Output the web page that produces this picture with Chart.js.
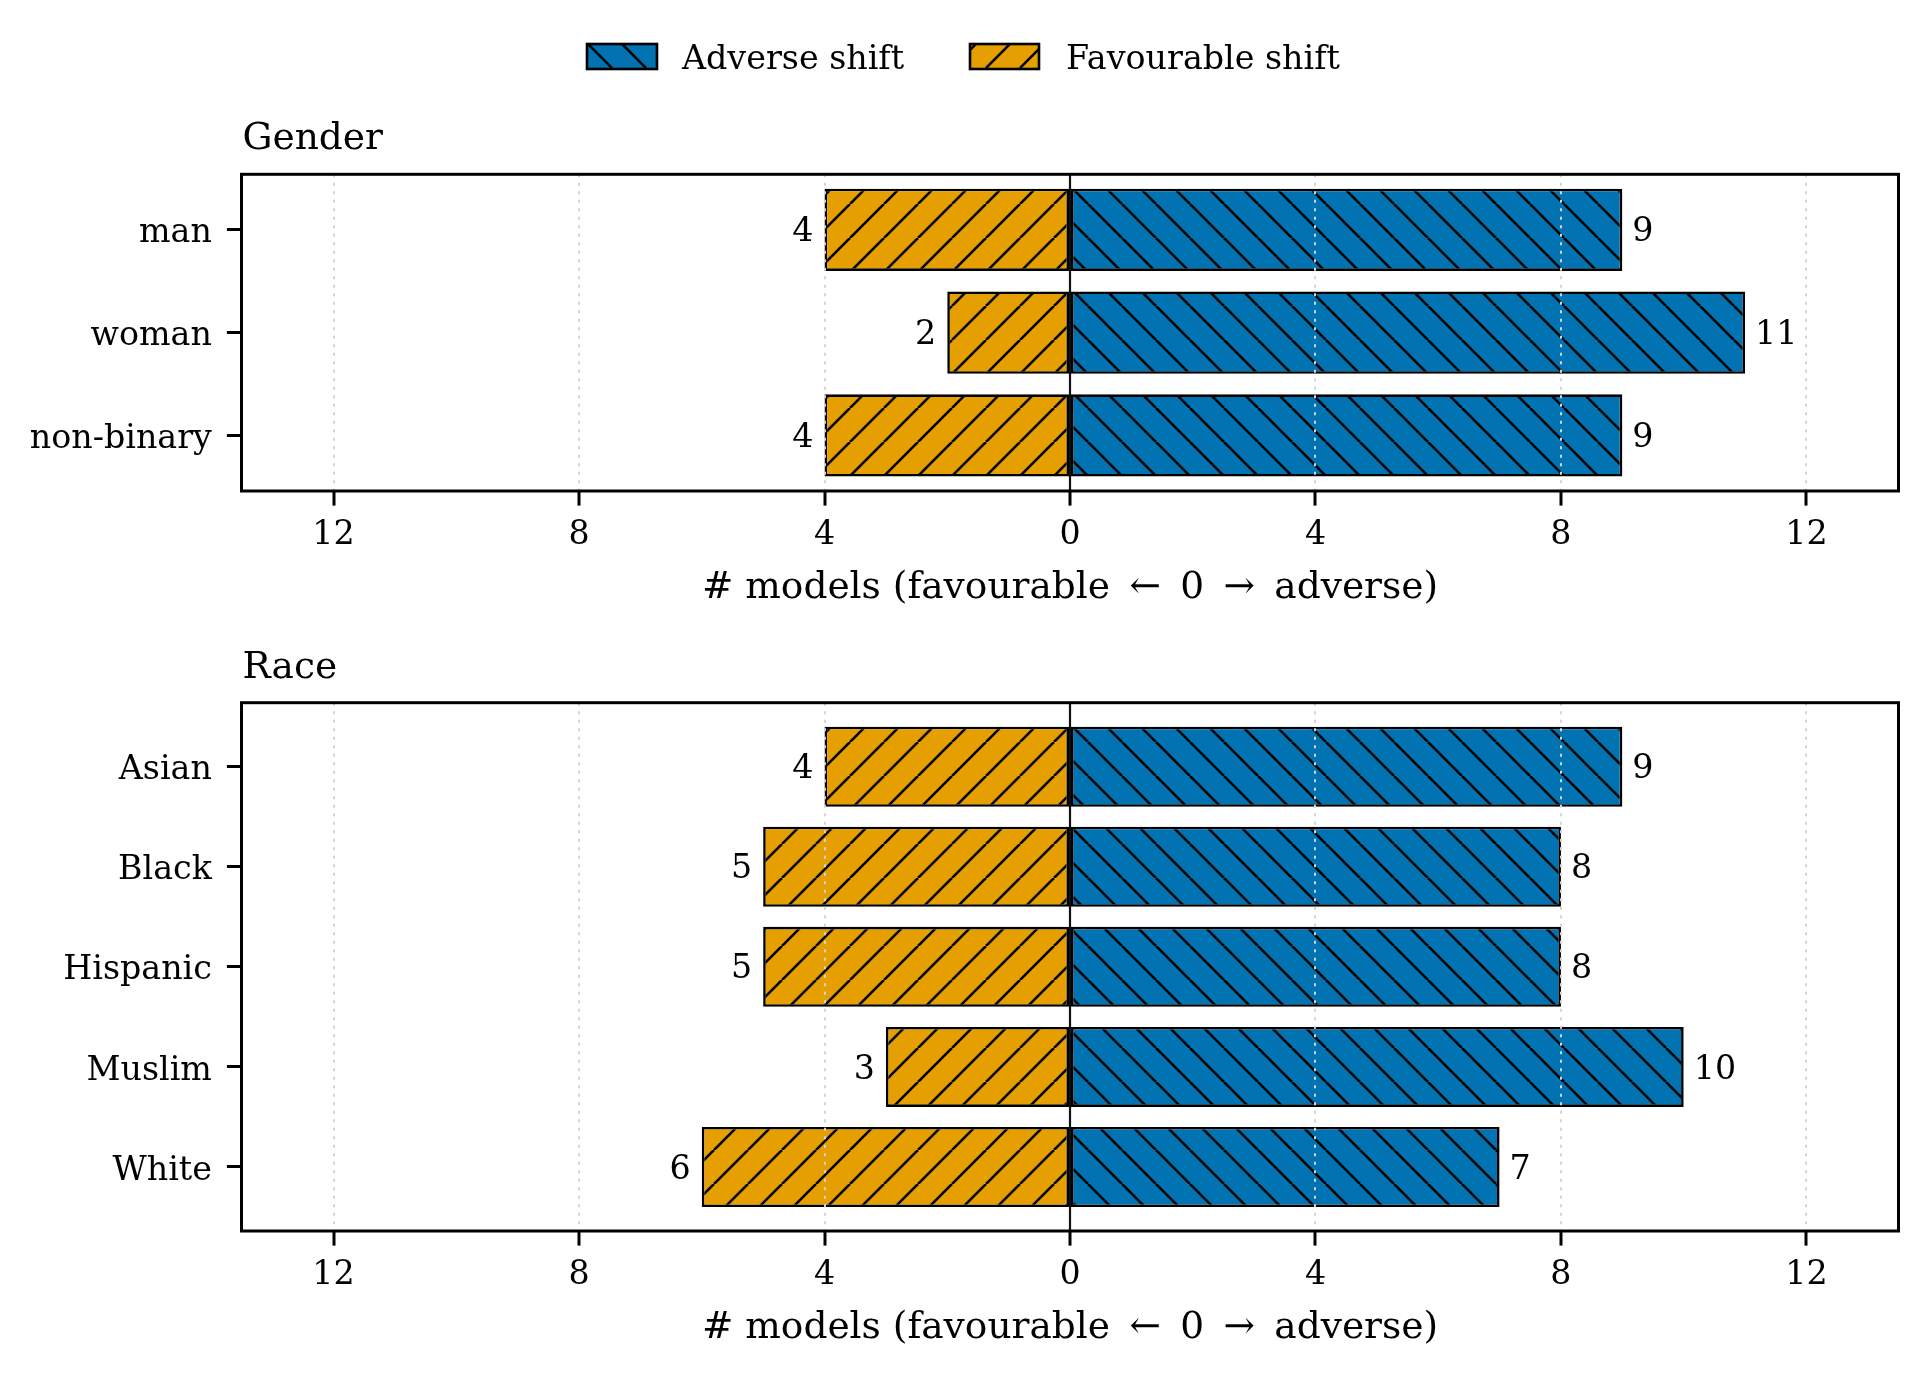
<!DOCTYPE html>
<html>
<head>
<meta charset="utf-8">
<script src="https://cdn.jsdelivr.net/npm/chart.js@4/dist/chart.umd.min.js"></script>
<style>
html,body{margin:0;padding:0;background:#ffffff;}
#wrap{position:relative;width:1929px;height:1377px;overflow:hidden;background:#fff;}
canvas{position:absolute;left:0;}
</style>
</head>
<body>
<div id="wrap">
<canvas id="c1" width="1929" height="640" style="top:0px;width:1929px;height:640px"></canvas>
<canvas id="c2" width="1929" height="737" style="top:640px;width:1929px;height:737px"></canvas>
</div>
<script>
// ---------------- data ----------------
const genderCategories = ['man', 'woman', 'non-binary'];
const genderAdverse = [9, 11, 9];
const genderFavourable = [4, 2, 4];

const raceCategories = ['Asian', 'Black', 'Hispanic', 'Muslim', 'White'];
const raceAdverse = [9, 8, 8, 10, 7];
const raceFavourable = [4, 5, 5, 3, 6];

const xTickValues = [-12, -8, -4, 0, 4, 8, 12];
const xLimit = 13.5;
const seriesLabels = ['Adverse shift', 'Favourable shift'];
const panelTitles = ['Gender', 'Race'];
const axisTitle = '# models (favourable \u2009\u2190\u2009 0 \u2009\u2192\u2009 adverse)';

// ---------------- styles ----------------
const FONT = "'DejaVu Serif', serif";
const BLUE = '#0173B2';
const ORANGE = '#E69F00';

function hatch(ctx, color, dir) {
  const s = 34;
  const tile = document.createElement('canvas');
  tile.width = s; tile.height = s;
  const g = tile.getContext('2d');
  g.fillStyle = color;
  g.fillRect(0, 0, s, s);
  g.strokeStyle = '#000';
  g.lineWidth = 2.6;
  g.beginPath();
  for (let k = -1; k <= 1; k++) {
    if (dir === '/') { g.moveTo(k * s, s); g.lineTo(k * s + s, 0); }
    else { g.moveTo(k * s, 0); g.lineTo(k * s + s, s); }
  }
  g.stroke();
  return ctx.createPattern(tile, 'repeat');
}

const framePlugin = {
  id: 'frame',
  afterDatasetsDraw(chart) {
    const c = chart.ctx, a = chart.chartArea;
    const x0 = chart.scales.x.getPixelForValue(0);
    c.save();
    c.strokeStyle = '#111';
    c.lineWidth = 2.2;
    c.beginPath();
    c.moveTo(x0, a.top);
    c.lineTo(x0, a.bottom);
    c.stroke();
    // value labels
    c.font = '33.3px ' + FONT;
    c.fillStyle = '#000';
    c.textBaseline = 'middle';
    chart.data.datasets.forEach((ds, di) => {
      const meta = chart.getDatasetMeta(di);
      meta.data.forEach((bar, i) => {
        const v = ds.data[i].x;
        if (v >= 0) { c.textAlign = 'left'; c.fillText(String(v), bar.x + 10, bar.y + 3); }
        else { c.textAlign = 'right'; c.fillText(String(-v), bar.x - 11, bar.y + 3); }
      });
    });
    c.restore();
  },
  afterDraw(chart, args, opts) {
    const c = chart.ctx, a = chart.chartArea;
    c.save();
    c.strokeStyle = '#000';
    c.lineWidth = 3;
    c.strokeRect(a.left, a.top, a.right - a.left, a.bottom - a.top);
    c.fillStyle = '#000';
    c.font = '37.5px ' + FONT;
    c.textAlign = 'left';
    c.textBaseline = 'alphabetic';
    c.fillText(opts.title, a.left + 1, a.top - 25);
    if (opts.legend) {
      const ds = chart.data.datasets;
      const items = [
        {x: 587, w: 70, fill: ds[0].backgroundColor, text: ds[0].label, tx: 682},
        {x: 970, w: 69, fill: ds[1].backgroundColor, text: ds[1].label, tx: 1066}
      ];
      c.font = '33.3px ' + FONT;
      items.forEach(it => {
        c.fillStyle = it.fill;
        c.fillRect(it.x, 44, it.w, 25);
        c.lineWidth = 2.6;
        c.strokeStyle = '#000';
        c.strokeRect(it.x, 44, it.w, 25);
        c.fillStyle = '#000';
        c.fillText(it.text, it.tx, 69);
      });
    }
    c.restore();
  }
};

function makeChart(canvasId, cats, adv, fav, cfg) {
  const ctx = document.getElementById(canvasId).getContext('2d');
  const n = cats.length;
  const span = (n - 1) + 0.8;
  const yMin = -0.4 - 0.05 * span;
  const yMax = (n - 1) + 0.4 + 0.05 * span;
  return new Chart(ctx, {
    type: 'bar',
    data: {
      datasets: [
        {
          label: seriesLabels[0],
          data: adv.map((v, i) => ({x: v, y: i})),
          backgroundColor: hatch(ctx, BLUE, '\\')
        },
        {
          label: seriesLabels[1],
          data: fav.map((v, i) => ({x: -v, y: i})),
          backgroundColor: hatch(ctx, ORANGE, '/')
        }
      ]
    },
    options: {
      indexAxis: 'y',
      responsive: false,
      animation: false,
      devicePixelRatio: 1,
      layout: {padding: {left: 0, right: 30.5, top: cfg.top, bottom: 0}},
      datasets: {
        bar: {
          barPercentage: 0.8,
          categoryPercentage: 1,
          borderWidth: 2.6,
          borderColor: '#000',
          borderSkipped: false,
          inflateAmount: 0
        }
      },
      scales: {
        x: {
          type: 'linear',
          min: -xLimit,
          max: xLimit,
          stacked: true,
          offset: false,
          afterBuildTicks: s => { s.ticks = xTickValues.map(v => ({value: v})); },
          afterFit: s => { s.height = cfg.xh; },
          ticks: {
            callback: v => String(Math.abs(v)),
            font: {family: FONT, size: 33.3},
            color: '#000',
            padding: 10,
            maxRotation: 0,
            autoSkip: false
          },
          grid: {
            z: 1,
            offset: false,
            color: c => (c.tick && c.tick.value === 0) ? 'rgba(0,0,0,0)' : '#d4d4d4',
            lineWidth: 2,
            tickColor: '#000',
            tickWidth: 3,
            tickLength: 14.6,
            tickBorderDash: [],
            drawOnChartArea: true
          },
          border: {display: false, dash: [3, 5.5]},
          title: {
            display: true,
            text: axisTitle,
            font: {family: FONT, size: 37.5},
            color: '#000',
            padding: {top: 0, bottom: cfg.tpb}
          }
        },
        y: {
          type: 'linear',
          min: yMin,
          max: yMax,
          reverse: true,
          stacked: true,
          offset: false,
          afterBuildTicks: s => { s.ticks = cats.map((_, i) => ({value: i})); },
          afterFit: s => { s.width = 241.5; },
          ticks: {
            callback: v => cats[v],
            font: {family: FONT, size: 33.3},
            color: '#000',
            padding: 15,
            labelOffset: 4,
            autoSkip: false
          },
          grid: {
            offset: false,
            drawOnChartArea: false,
            tickColor: '#000',
            tickWidth: 3,
            tickLength: 14.6
          },
          border: {display: false}
        }
      },
      plugins: {
        legend: {display: false},
        tooltip: {enabled: false},
        frame: {title: cfg.title, legend: cfg.legend}
      }
    },
    plugins: [framePlugin]
  });
}

makeChart('c1', genderCategories, genderAdverse, genderFavourable,
  {top: 174.3, xh: 149, tpb: 29.5, title: panelTitles[0], legend: true});
makeChart('c2', raceCategories, raceAdverse, raceFavourable,
  {top: 62.7, xh: 146, tpb: 26.5, title: panelTitles[1], legend: false});
</script>
</body>
</html>
